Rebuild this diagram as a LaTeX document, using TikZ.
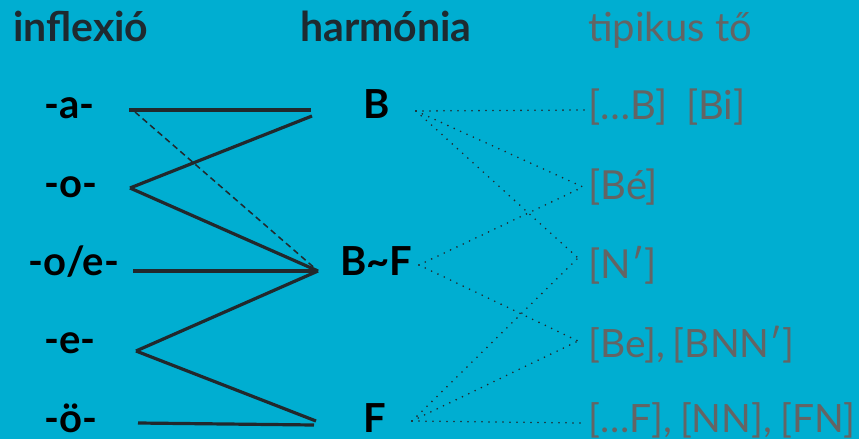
\documentclass[tikz,border=0pt]{standalone}
\usepackage{fontspec}
\setmainfont{Lato}
\definecolor{bg}{RGB}{0,174,209}
\definecolor{ink}{RGB}{34,40,44}
\definecolor{head}{RGB}{30,42,48}
\definecolor{stem}{RGB}{100,100,100}
\newcommand{\csp}{\hspace{0.2em}}
\tikzset{
  lab/.style={anchor=base west, inner sep=0pt, font=\fontsize{40}{48}\selectfont\bfseries, text=black},
  hdr/.style={lab, text=head, font=\fontsize{41}{48}\selectfont\bfseries},
  grey/.style={anchor=base west, inner sep=0pt, font=\fontsize{40}{48}\selectfont, text=stem},
  greys/.style={grey, font=\fontsize{39}{48}\selectfont},
  solidln/.style={draw=ink, line width=3.2pt},
  dashln/.style={draw=ink, line width=1.5pt, dash pattern=on 6pt off 4pt},
  dotln/.style={draw=ink, line width=1.8pt, line cap=round, dash pattern=on 0pt off 7pt}
}
\begin{document}
\begin{tikzpicture}[x=1pt,y=-1pt]
\useasboundingbox (0,0) rectangle (859,439);
\fill[bg] (0,0) rectangle (859,439);
% headers
\node[hdr] (h1) at (13,41) {inflexió};
\node[hdr] (h2) at (300,41) {harmónia};
\node[grey] (h3) at (588,41) {tipikus tő};
% left labels
\node[lab] (a) at (44,118) {-a-};
\node[lab] (o) at (44,197) {-o-};
\node[lab] (oe) at (28,275) {-o/e-};
\node[lab] (e) at (44,353) {-e-};
\node[lab] (oo) at (44,432) {-ö-};
% middle
\node[lab] (B) at (363,118) {B};
\node[lab] (BF) at (340,275) {B\char"007E F};
\node[lab] (F) at (363,432) {F};
% right
\node[grey] (s1) at (588,119) {[…B]\hspace{0.45em}[Bi]};
\node[grey] (s2) at (588,199) {[Bé]};
\node[grey] (s3) at (588,278) {[N′]};
\node[greys] (s4) at (588,357) {[Be],\csp[BNN′]};
\node[greys] (s5) at (588,432) {[…F],\csp[NN],\csp[FN]};
% connector end points
\coordinate (aR) at (129,110);
\coordinate (aRd) at (135,112);
\coordinate (oR) at (130,188);
\coordinate (oeR) at (133,271);
\coordinate (eR) at (136,351);
\coordinate (ooR) at (138,423);
\coordinate (BL) at (311,110);
\coordinate (BL2) at (312,116);
\coordinate (BFL) at (318,271);
\coordinate (FL) at (316,421);
\coordinate (FL2) at (314,425);
\coordinate (BR) at (416,111);
\coordinate (BFR) at (419,265);
\coordinate (FR) at (412,421);
\coordinate (s1L) at (585,110);
\coordinate (s2L) at (583,187);
\coordinate (s3L) at (578,258);
\coordinate (s4L) at (578,341);
\coordinate (s5L) at (581,423);
% solid connectors
\draw[solidln] (aR) -- (BL);
\draw[solidln] (BL2) -- (oR);
\draw[solidln] (oR) -- (BFL);
\draw[solidln] (oeR) -- (BFL);
\draw[solidln] (BFL) -- (eR);
\draw[solidln] (eR) -- (FL);
\draw[solidln] (ooR) -- (FL2);
\draw[dashln] (aRd) -- (BFL);
% dotted connectors
\draw[dotln] (BR) -- (s1L);
\draw[dotln] (BR) -- (s2L);
\draw[dotln] (BR) -- (s3L);
\draw[dotln] (BFR) -- (s2L);
\draw[dotln] (BFR) -- (s4L);
\draw[dotln] (FR) -- (s3L);
\draw[dotln] (FR) -- (s4L);
\draw[dotln] (FR) -- (s5L);
\end{tikzpicture}
\end{document}
